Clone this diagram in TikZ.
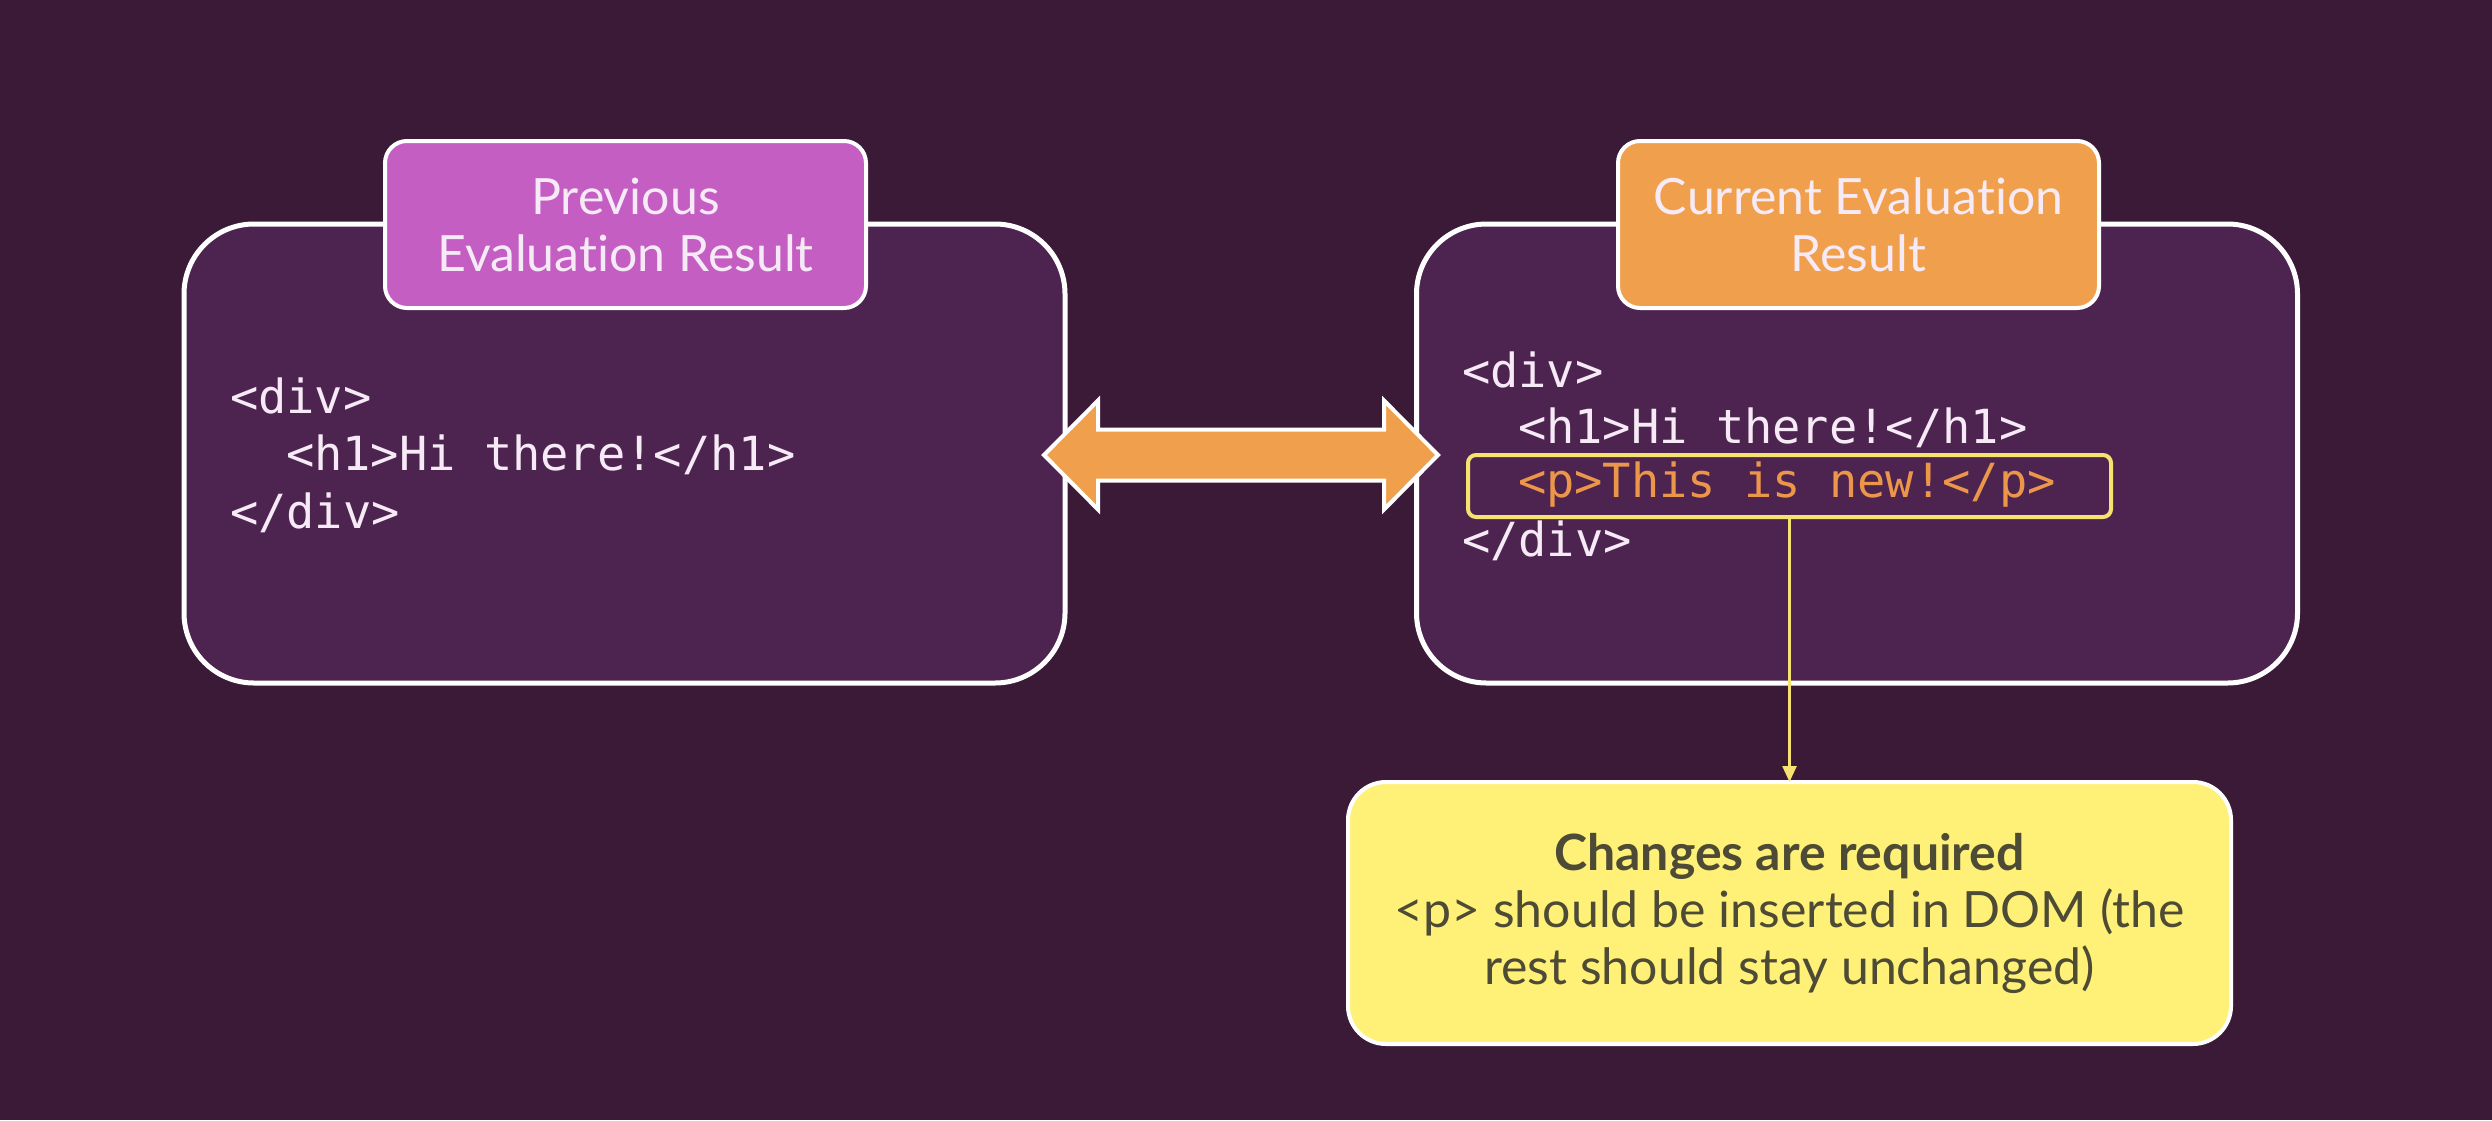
\documentclass[tikz,border=0pt]{standalone}
\usepackage{fontspec}
\setmainfont{Lato}[Ligatures=CommonOff]
\setmonofont{DejaVu Sans Mono}
\usetikzlibrary{arrows.meta}
\definecolor{slidebg}{RGB}{59,26,56}
\definecolor{panelbg}{RGB}{77,35,80}
\definecolor{prevpink}{RGB}{196,94,195}
\definecolor{curorange}{RGB}{240,160,76}
\definecolor{codeorange}{RGB}{236,150,74}
\definecolor{noteyellow}{RGB}{255,241,120}
\definecolor{markyellow}{RGB}{246,226,112}
\definecolor{notetext}{RGB}{77,74,53}
\definecolor{titletext}{RGB}{246,234,246}

\begin{document}
\begin{tikzpicture}[x=1pt,y=-1pt,line width=5pt]
            \tikzstyle{every node}=[inner sep=0pt, outer sep=0pt]
            \tikzstyle{panel}=[draw=white, fill=panelbg, rounded corners=70pt, minimum width=881pt, minimum height=459pt]
            \tikzstyle{title}=[draw=white, line width=4pt, rounded corners=22pt, text=titletext, align=center, minimum width=481pt, minimum height=167pt, font=\fontsize{50}{57}\selectfont]
            \tikzstyle{code}=[anchor=west, text=titletext, font=\ttfamily\fontsize{47}{57}\selectfont]
            %\tikzstyle{every edge}=[thick]
            \fill[slidebg] (0,0) rectangle (2492,1120);

            % the two evaluation results
            \node[panel] (prev) at (624.5,453.5) {};
            \node[panel] (cur) at (1857,453.5) {};
            \node[title, fill=prevpink] (prevt) at (625.5,224.5) {Previous\\Evaluation Result};
            \node[title, fill=curorange] (curt) at (1858.5,224.5) {Current Evaluation\\Result};

            \node[code] (pdiv) at (230,396) {<div>};
            \node[code] (ph) at (286,455) {<h1>Hi there!</h1>};
            \node[code] (pend) at (230,513) {</div>};

            \node[draw=markyellow, line width=4pt, rounded corners=8pt, minimum width=643pt, minimum height=62pt] (hl) at (1789.5,486) {};
            \node[code] (cdiv) at (1462,370) {<div>};
            \node[code] (ch) at (1518,428) {<h1>Hi there!</h1>};
            \node[code, text=codeorange] (cp) at (1518,485) {<p>This is new!</p>};
            \node[code] (cend) at (1462,541) {</div>};

            % comparison arrow
            \coordinate (la) at (1044,455);
            \coordinate (ra) at (1438,455);
            \draw[draw=white, fill=curorange, line width=4pt, line join=miter] (la) -- ++(54,-54.5) -- ++(0,29) -- ++(286,0) -- ++(0,-29) -- (ra) -- ++(-54,54.5) -- ++(0,-29) -- ++(-286,0) -- ++(0,29) -- cycle;

            % result of the comparison
            \node[draw=white, line width=4pt, fill=noteyellow, rounded corners=38pt, minimum width=883pt, minimum height=262pt, text=notetext, align=center, font=\fontsize{50}{57}\selectfont] (note) at (1789.5,913) {\textbf{Changes are required}\\<p> should be inserted in DOM (the\\rest should stay unchanged)};

            \draw[-{Triangle[width=14pt,length=16pt]}, draw=markyellow, fill=markyellow, line width=2.5pt] (hl.south) -- (note.north);
        \end{tikzpicture}
\end{document}
